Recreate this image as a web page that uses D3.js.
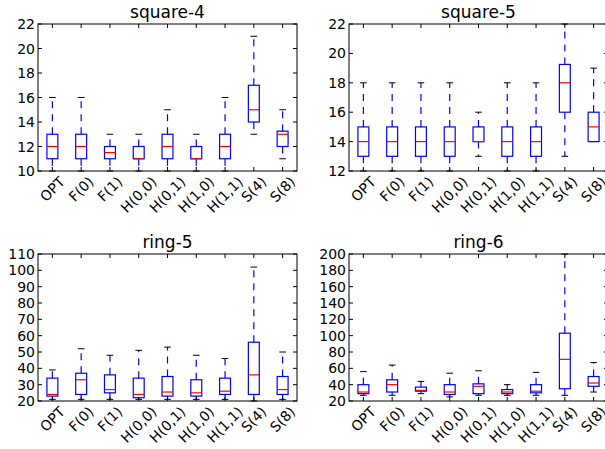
<!DOCTYPE html>
<meta charset="utf-8">
<script src="https://d3js.org/d3.v7.min.js"></script>
<style>
  body { margin: 0; background: #fff; }
  text { font-family: "DejaVu Sans", sans-serif; fill: #000; }
</style>
<div id="chart"></div>
<script>
// categories on the x axis
var categories = ["OPT", "F(0)", "F(1)", "H(0,0)", "H(0,1)", "H(1,0)", "H(1,1)", "S(4)", "S(8)"];

// box stats per category: [whisker low, q1, median, q3, whisker high]
var square4 = [[10,11,12,13,16],[10,11,12,13,16],[10,11,11.5,12,13],[10,11,11,12,13],[10,11,12,13,15],
               [10,11,11,12,13],[10,11,12,13,16],[13,14,15,17,21],[11,12,13,13.25,15]];
var square5 = [[12,13,14,15,18],[12,13,14,15,18],[12,13,14,15,18],[12,13,14,15,18],[13,14,14,15,16],
               [12,13,14,15,18],[12,13,14,15,18],[13,16,18,19.25,22],[14,14,15,16,19]];
var ring5 = [[21,23,24,34,39],[21,24,33,37,52],[21,25,27,36,48],[21,22,24,34,51],[21,23,25.5,35,53],
             [21,23,25,33,48],[21,24,26,34,46],[20,24,36,56,102],[21,24,27,35,50]];
var ring6 = [[27,29,31,40,56],[27,31,40,46,64],[29,32,33,37,44],[25,28,31,40,54],[27,29,38,41,57],
             [27,29,31,34,40],[27,30,32,40,55],[27,35,71,103,200],[31,38,42,50,67]];

// y axis ranges and ticks
var square4Ticks = [10,12,14,16,18,20,22];
var square5Ticks = [12,14,16,18,20,22];
var ring5Ticks = [20,30,40,50,60,70,80,90,100,110];
var ring6Ticks = [20,40,60,80,100,120,140,160,180,200];

var panels = [
  { title: "square-4", data: square4, ticks: square4Ticks, left: 38, top: 24 },
  { title: "square-5", data: square5, ticks: square5Ticks, left: 349, top: 24 },
  { title: "ring-5", data: ring5, ticks: ring5Ticks, left: 38, top: 254 },
  { title: "ring-6", data: ring6, ticks: ring6Ticks, left: 349, top: 254 }
];

var W = 605, H = 449, pw = 259, ph = 147;

var svg = d3.select("#chart").append("svg")
  .attr("width", W).attr("height", H);

panels.forEach(function (p) {
  var g = svg.append("g").attr("transform", "translate(" + p.left + "," + p.top + ")");

  var x = d3.scalePoint().domain(categories).range([0, pw]).padding(0.5);
  var step = x.step();
  var y = d3.scaleLinear().domain(d3.extent(p.ticks)).range([ph, 0]);
  var bw = step * 0.38, cw = step * 0.23;

  // title
  g.append("text").attr("x", pw / 2).attr("y", -6)
    .attr("text-anchor", "middle").style("font-size", "17px").text(p.title);

  // boxes
  var b = g.selectAll(".box").data(p.data).enter().append("g")
    .attr("transform", function (d, i) { return "translate(" + x(categories[i]) + ",0)"; });

  // whiskers
  b.append("line").attr("x1", 0).attr("x2", 0)
    .attr("y1", function (d) { return y(d[1]); }).attr("y2", function (d) { return y(d[0]); })
    .attr("stroke", "#0000ff").attr("stroke-width", 1.2).attr("stroke-dasharray", "7,6");
  b.append("line").attr("x1", 0).attr("x2", 0)
    .attr("y1", function (d) { return y(d[3]); }).attr("y2", function (d) { return y(d[4]); })
    .attr("stroke", "#0000ff").attr("stroke-width", 1.2).attr("stroke-dasharray", "7,6");
  // caps
  [0, 4].forEach(function (k) {
    b.append("line").attr("x1", -cw / 2).attr("x2", cw / 2)
      .attr("y1", function (d) { return y(d[k]); }).attr("y2", function (d) { return y(d[k]); })
      .attr("stroke", "#000").attr("stroke-width", 1);
  });
  // box
  b.append("rect").attr("x", -bw / 2).attr("width", bw)
    .attr("y", function (d) { return y(d[3]); })
    .attr("height", function (d) { return y(d[1]) - y(d[3]); })
    .attr("fill", "none").attr("stroke", "#0000ff").attr("stroke-width", 1.2);
  // median
  b.append("line").attr("x1", -bw / 2).attr("x2", bw / 2)
    .attr("y1", function (d) { return y(d[2]); }).attr("y2", function (d) { return y(d[2]); })
    .attr("stroke", "#ff0000").attr("stroke-width", 1.2);

  // frame
  g.append("rect").attr("width", pw).attr("height", ph)
    .attr("fill", "none").attr("stroke", "#000").attr("stroke-width", 1);

  // y ticks (inside, both sides) and labels
  p.ticks.forEach(function (t) {
    g.append("line").attr("x1", 0).attr("x2", 4).attr("y1", y(t)).attr("y2", y(t)).attr("stroke", "#000");
    g.append("line").attr("x1", pw).attr("x2", pw - 4).attr("y1", y(t)).attr("y2", y(t)).attr("stroke", "#000");
    g.append("text").attr("x", -3).attr("y", y(t)).attr("dy", "0.36em")
      .attr("text-anchor", "end").style("font-size", "14px").text(t);
  });

  // x ticks (inside, top and bottom) and rotated labels
  categories.forEach(function (c) {
    g.append("line").attr("x1", x(c)).attr("x2", x(c)).attr("y1", ph).attr("y2", ph - 4).attr("stroke", "#000");
    g.append("line").attr("x1", x(c)).attr("x2", x(c)).attr("y1", 0).attr("y2", 4).attr("stroke", "#000");
    var t = g.append("text").attr("text-anchor", "middle").attr("dy", "0.35em")
      .style("font-size", "14px").text(c);
    var len = t.node().getComputedTextLength();
    var half = (len + 12) / (2 * Math.SQRT2);
    t.attr("transform", "translate(" + x(c) + "," + (ph + 4 + half) + ") rotate(-45)");
  });
});
</script>
